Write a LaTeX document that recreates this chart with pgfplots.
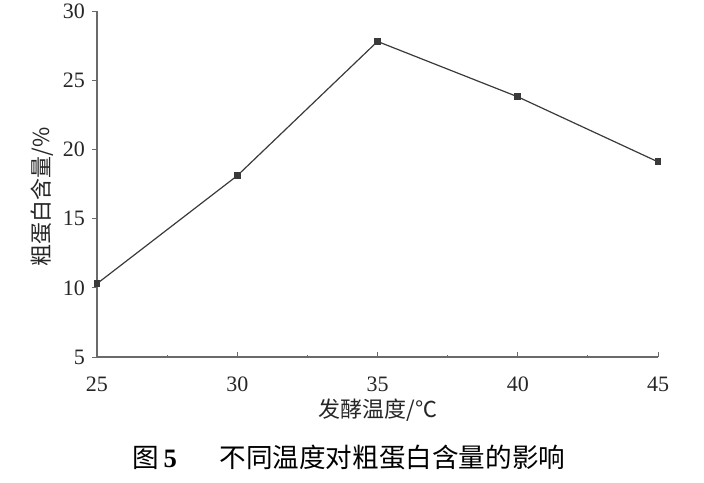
\documentclass[border=0pt]{standalone}
\usepackage{pgfplots}
\pgfplotsset{compat=1.18}
\usepackage{fontspec}
\setmainfont{Liberation Serif}
\newfontfamily\cjk{Noto Sans CJK SC}
\definecolor{axgray}{HTML}{6A6A6A}
\definecolor{lngray}{HTML}{3A3A3A}
\begin{document}
\begin{tikzpicture}
\begin{axis}[
  scale only axis,
  width=280.5pt, height=173pt,
  xmin=25, xmax=45, ymin=5, ymax=30,
  xtick={25,30,35,40,45},
  ytick={5,10,15,20,25,30},
  minor x tick num=1,
  axis x line*=bottom, axis y line*=left,
  axis line style={axgray, line width=0.7pt, -},
  tick align=outside,
  major tick length=2.5pt,
  minor tick length=1pt,
  xtick style={axgray, line width=0.5pt, yshift=2.5pt},
  minor x tick style={yshift=-1.5pt},
  ytick style={axgray, line width=0.5pt},
  tick label style={font=\fontsize{11}{13}\selectfont, text=black!85},
  /pgf/number format/assume math mode=true,
  xticklabel style={yshift=-4pt},
  yticklabel style={xshift=0pt},
  xlabel={\cjk 发酵温度/℃},
  ylabel={\cjk 粗蛋白含量/\%},
  every axis x label/.style={at={(axis description cs:0.501,-0.153)}, anchor=center, font=\fontsize{11}{13}\selectfont, text=black!85},
  every axis y label/.style={at={(axis description cs:-0.098,0.462)}, anchor=center, rotate=90, font=\fontsize{11}{13}\selectfont, text=black!85},
  clip=false,
]
\addplot[lngray, line width=0.6pt, mark=square*, mark size=1.4pt, mark options={fill=lngray, draw=lngray}]
  coordinates {(25,10.3) (30,18.1) (35,27.8) (40,23.8) (45,19.1)};
\end{axis}
\path (current axis.south west) ++(126pt,-50pt) node[font=\fontsize{13.3}{15}\selectfont]{\cjk 图\,{\rmfamily\bfseries 5}\hspace{1.6em}不同温度对粗蛋白含量的影响};
\pgfresetboundingbox
\path (current axis.south west) ++(-48.5pt,-62.5pt) rectangle ++(352pt,241pt);
\end{tikzpicture}
\end{document}
